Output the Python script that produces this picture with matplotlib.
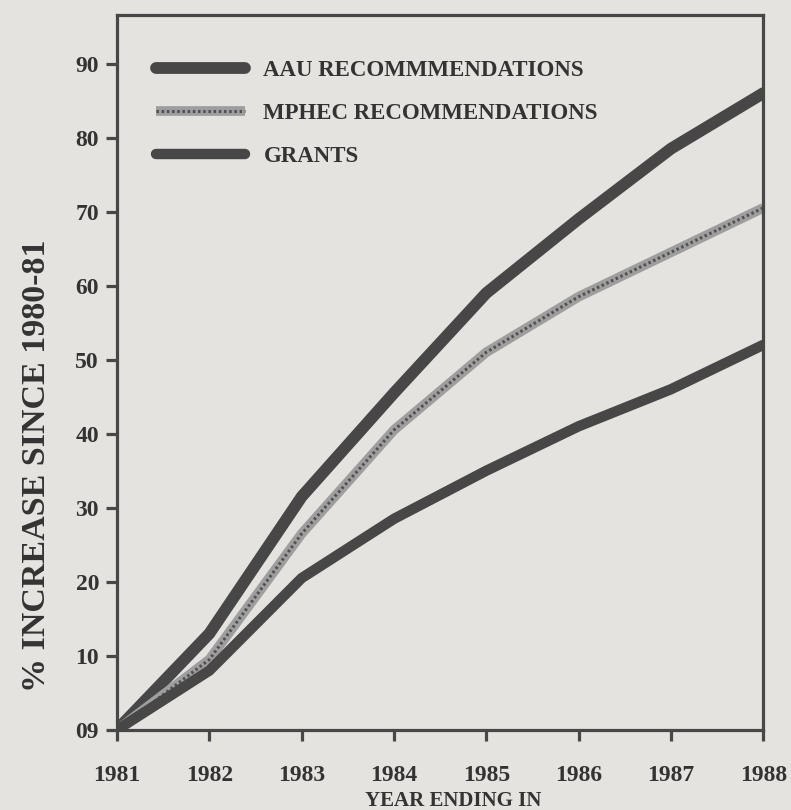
import matplotlib.pyplot as plt
import numpy as np
from matplotlib.legend_handler import HandlerTuple

years = [1981, 1982, 1983, 1984, 1985, 1986, 1987, 1988]
aau = [0, 13, 31.5, 45.5, 59, 69, 78.5, 86]
mphec = [0, 9.5, 26.5, 40.5, 51, 58.5, 64.5, 70.5]
grants = [0, 8, 20.5, 28.5, 35, 41, 46, 52]

yticks = [0, 10, 20, 30, 40, 50, 60, 70, 80, 90]
ytick_labels = ["09", "10", "20", "30", "40", "50", "60", "70", "80", "90"]

paper = "#e5e3df"
ink = "#474747"

plt.rcParams['font.family'] = ['Liberation Serif', 'DejaVu Serif']
plt.rcParams['font.weight'] = 'bold'

fig = plt.figure(figsize=(7.91, 8.10), dpi=100, facecolor=paper)
ax = fig.add_axes([0.148, 0.099, 0.817, 0.882], facecolor=paper)

l_aau, = ax.plot(years, aau, color=ink, lw=8.5, solid_capstyle='round')
l_mp1, = ax.plot(years, mphec, color="#9e9e9e", lw=7, solid_capstyle='butt')
l_mp2, = ax.plot(years, mphec, color="#505050", lw=2.2, ls=(0, (0.8, 0.9)))
l_gr, = ax.plot(years, grants, color=ink, lw=7.5, solid_capstyle='round')

ax.set_xlim(1981, 1988)
ax.set_ylim(0, 96.5)
ax.set_xticks(years)
ax.set_xticklabels([str(y) for y in years])
ax.set_yticks(yticks)
ax.set_yticklabels(ytick_labels)

for s in ax.spines.values():
    s.set_linewidth(2.3)
    s.set_color(ink)

ax.tick_params(axis='both', direction='out', length=8, width=2.3, color=ink,
               labelsize=17, labelcolor="#333333")
ax.tick_params(axis='x', pad=17)
ax.tick_params(axis='y', pad=5)

ax.set_ylabel("% INCREASE SINCE 1980-81", fontsize=24.5, color="#333333", fontweight='bold')
ax.yaxis.set_label_coords(-0.1, 0.37)
ax.set_xlabel("YEAR ENDING IN", fontsize=15, color="#333333", fontweight='bold')
ax.xaxis.set_label_coords(0.52, -0.085)

leg = ax.legend([l_aau, (l_mp1, l_mp2), l_gr],
                ["AAU RECOMMMENDATIONS", "MPHEC RECOMMENDATIONS", "GRANTS"],
                handler_map={tuple: HandlerTuple(ndivide=1)},
                loc='upper left', bbox_to_anchor=(0.028, 0.966), frameon=False,
                fontsize=16.5, handlelength=3.9, handletextpad=0.8, labelspacing=0.95)
for t in leg.get_texts():
    t.set_color("#333333")

fig.savefig("out.png", dpi=100, facecolor=paper)
